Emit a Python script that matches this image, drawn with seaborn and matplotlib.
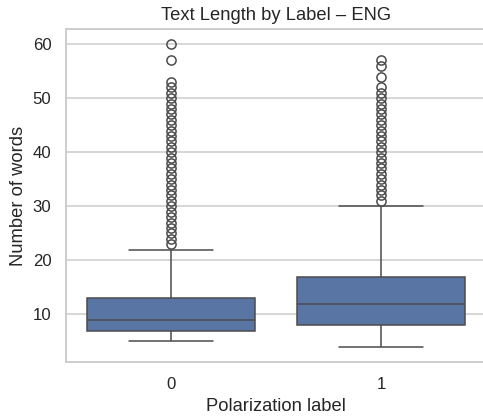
import numpy as np
import pandas as pd
import seaborn as sns
import matplotlib.pyplot as plt

# Word-count distribution per polarization label (value -> number of texts)
label0_values = [5, 6, 7, 8, 9, 10, 11, 12, 13, 14, 15, 16, 17, 18, 19, 20, 21, 22]
label0_counts = [30, 60, 130, 100, 115, 70, 60, 50, 50, 40, 30, 25, 20, 15, 12, 10, 8, 6]
label0_outliers = [23, 24, 25, 26, 27, 28, 29, 30, 31, 32, 33, 34, 35, 36, 37, 38,
                   39, 40, 41, 42, 43, 44, 45, 46, 47, 48, 49, 50, 51, 52, 53, 57, 60]

label1_values = [4, 5, 6, 7, 8, 9, 10, 11, 12, 13, 14, 15, 16, 17,
                 18, 19, 20, 21, 22, 23, 24, 25, 26, 27, 28, 29, 30]
label1_counts = [15, 35, 50, 60, 70, 50, 45, 40, 50, 40, 40, 35, 30, 45,
                 25, 22, 20, 18, 15, 13, 11, 10, 8, 7, 6, 5, 4]
label1_outliers = [31, 32, 33, 34, 35, 36, 37, 38, 39, 40, 41, 42, 43, 44, 45,
                   46, 47, 48, 49, 50, 51, 52, 54, 56, 57]

words0 = list(np.repeat(label0_values, label0_counts)) + label0_outliers
words1 = list(np.repeat(label1_values, label1_counts)) + label1_outliers

df = pd.DataFrame({
    "label": [0] * len(words0) + [1] * len(words1),
    "n_words": words0 + words1,
})

sns.set_theme(style="whitegrid")
plt.rcParams['font.family'] = ['Liberation Sans', 'DejaVu Sans']

dpi = 110
fig = plt.figure(figsize=(483 / dpi, 417 / dpi), dpi=dpi)
# axes runs slightly past the right edge, as in the reference crop
ax = fig.add_axes([66 / 483, 55 / 417, 420 / 483, 333 / 417])
sns.boxplot(data=df, x="label", y="n_words", ax=ax)
ax.set_title("Text Length by Label – ENG")
ax.set_xlabel("Polarization label")
ax.set_ylabel("Number of words")
fig.savefig("out.png", dpi=dpi)
plt.close(fig)
